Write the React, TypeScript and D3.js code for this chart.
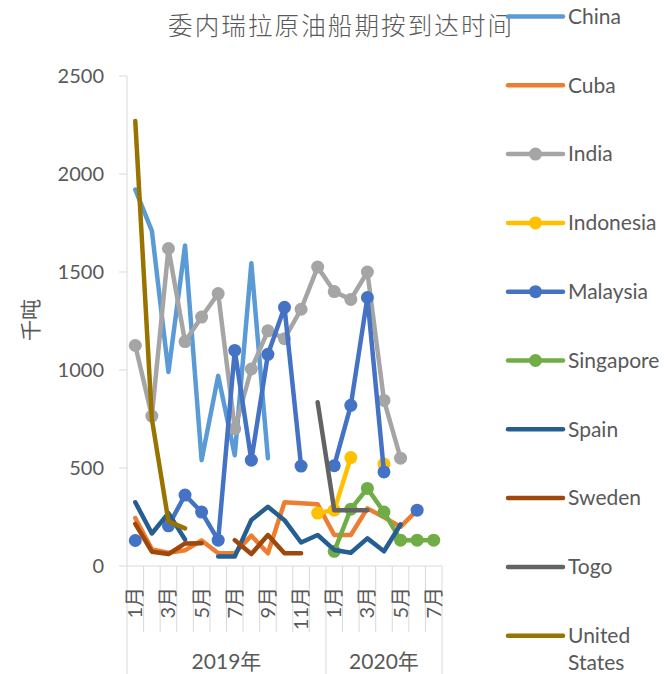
import React, { useEffect, useRef } from "react";
import * as d3 from "d3";

// categories: 2019 Jan..Dec, 2020 Jan..Jul
const months = ["1月", "2月", "3月", "4月", "5月", "6月", "7月", "8月", "9月", "10月", "11月", "12月",
  "1月", "2月", "3月", "4月", "5月", "6月", "7月"];
const years = [
  { label: "2019年", start: 0, end: 12 },
  { label: "2020年", start: 12, end: 19 },
];
const yTicks = [0, 500, 1000, 1500, 2000, 2500];

const N = null;
const china = [1920, 1710, 990, 1635, 540, 970, 565, 1545, 550, N, N, N, N, N, N, N, N, N, N];
const cuba = [245, 85, 68, 80, 130, 65, 65, 155, 65, 325, 320, 315, 158, 158, 294, 248, 200, 285, N];
const india = [1125, 765, 1620, 1145, 1270, 1390, 700, 1005, 1200, 1160, 1310, 1525, 1400, 1360, 1500, 845, 550, N, N];
const indonesia = [N, N, N, N, N, N, N, N, N, N, N, 270, 285, 553, N, 520, N, N, N];
const malaysia = [130, N, 205, 362, 275, 132, 1100, 540, 1080, 1320, 510, N, 512, 820, 1370, 480, N, 285, N];
const singapore = [N, N, N, N, N, N, N, N, N, N, N, N, 75, 290, 396, 275, 132, 132, 132];
const spain = [325, 166, 270, 135, N, 48, 48, 235, 302, 234, 120, 158, 82, 68, 141, 75, 212, N, N];
const sweden = [215, 73, 61, 115, 116, N, 132, 61, 158, 65, 65, N, N, N, N, N, N, N, N];
const togo = [N, N, N, N, N, N, N, N, N, N, N, 835, 285, 285, 285, N, N, N, N];
const unitedStates = [2270, 750, 228, 192, N, N, N, N, N, N, N, N, N, N, N, N, N, N, N];

const series = [
  { name: "China", values: china, color: "#5B9BD5", marker: false },
  { name: "Cuba", values: cuba, color: "#ED7D31", marker: false },
  { name: "India", values: india, color: "#A5A5A5", marker: true },
  { name: "Indonesia", values: indonesia, color: "#FFC000", marker: true },
  { name: "Malaysia", values: malaysia, color: "#4472C4", marker: true },
  { name: "Singapore", values: singapore, color: "#70AD47", marker: true },
  { name: "Spain", values: spain, color: "#255E91", marker: false },
  { name: "Sweden", values: sweden, color: "#9E480E", marker: false },
  { name: "Togo", values: togo, color: "#636363", marker: false },
  { name: "United States", values: unitedStates, color: "#997300", marker: false },
];

const FONT = "Lato, 'Noto Sans CJK SC', sans-serif";
const TEXT = "#595959";
const AXIS = "#D9D9D9";

export default function App() {
  const ref = useRef<SVGSVGElement | null>(null);

  useEffect(() => {
    const svg = d3.select(ref.current);
    svg.selectAll("*").remove();

    const left = 127, right = 442, top = 76, bottom = 566;

    const x = d3.scaleBand<number>()
      .domain(months.map((_, i) => i))
      .range([left, right])
      .padding(0);
    const bw = x.bandwidth();
    const cx = (i: number) => (x(i) as number) + bw / 2;

    const y = d3.scaleLinear().domain([0, 2500]).range([bottom, top]);

    // title
    svg.append("text")
      .attr("x", 340).attr("y", 35)
      .attr("text-anchor", "middle")
      .attr("font-family", "'Noto Sans CJK SC', sans-serif")
      .attr("font-size", 24.5)
      .attr("font-weight", 300)
      .attr("textLength", 344)
      .attr("fill", TEXT)
      .text("委内瑞拉原油船期按到达时间");

    // y axis
    const yAxis = svg.append("g");
    yAxis.append("line")
      .attr("x1", left).attr("x2", left)
      .attr("y1", top).attr("y2", bottom)
      .attr("stroke", AXIS).attr("stroke-width", 1);
    yTicks.forEach(t => {
      yAxis.append("line")
        .attr("x1", left - 8).attr("x2", left)
        .attr("y1", y(t)).attr("y2", y(t))
        .attr("stroke", AXIS);
      yAxis.append("text")
        .attr("x", 104).attr("y", y(t))
        .attr("dy", "0.35em")
        .attr("text-anchor", "end")
        .attr("font-family", FONT).attr("font-size", 20)
        .attr("fill", TEXT)
        .text(t);
    });
    svg.append("text")
      .attr("transform", `translate(31,320) rotate(-90)`)
      .attr("text-anchor", "middle")
      .attr("dy", "0.35em")
      .attr("font-family", "'Noto Sans CJK SC', sans-serif")
      .attr("font-size", 21)
      .attr("fill", TEXT)
      .text("千吨");

    // x axis
    const xAxis = svg.append("g");
    xAxis.append("line")
      .attr("x1", left).attr("x2", right)
      .attr("y1", bottom).attr("y2", bottom)
      .attr("stroke", AXIS);
    for (let k = 0; k <= months.length; k++) {
      const xx = k < months.length ? (x(k) as number) : right;
      const isGroup = years.some(g => g.start === k || g.end === k);
      xAxis.append("line")
        .attr("x1", xx).attr("x2", xx)
        .attr("y1", bottom).attr("y2", isGroup ? 674 : 632)
        .attr("stroke", AXIS);
    }
    months.forEach((m, i) => {
      const idx = i < 12 ? i : i - 12;
      if (idx % 2 !== 0) return;
      xAxis.append("text")
        .attr("transform", `translate(${cx(i)},587) rotate(-90)`)
        .attr("text-anchor", "end")
        .attr("dy", "0.35em")
        .attr("font-family", FONT).attr("font-size", 20)
        .attr("fill", TEXT)
        .text(m);
    });
    years.forEach(g => {
      const x0 = x(g.start) as number;
      const x1 = g.end < months.length ? (x(g.end) as number) : right;
      xAxis.append("text")
        .attr("x", (x0 + x1) / 2).attr("y", 669)
        .attr("text-anchor", "middle")
        .attr("font-family", FONT).attr("font-size", 21)
        .attr("fill", TEXT)
        .text(g.label);
    });

    // series
    const line = d3.line<number | null>()
      .defined(d => d != null)
      .x((_, i) => cx(i))
      .y(d => y(d as number));

    series.forEach(s => {
      const g = svg.append("g");
      g.append("path")
        .attr("d", line(s.values))
        .attr("fill", "none")
        .attr("stroke", s.color)
        .attr("stroke-width", 4.5)
        .attr("stroke-linejoin", "round")
        .attr("stroke-linecap", "round");
      if (s.marker) {
        g.selectAll("circle")
          .data(s.values.map((v, i) => ({ v, i })).filter(d => d.v != null))
          .enter()
          .append("circle")
          .attr("cx", d => cx(d.i))
          .attr("cy", d => y(d.v as number))
          .attr("r", 6.5)
          .attr("fill", s.color);
      }
    });

    // legend
    const leg = svg.append("g");
    series.forEach((s, i) => {
      const ly = 16.5 + i * 68.8;
      leg.append("line")
        .attr("x1", 508).attr("x2", 563)
        .attr("y1", ly).attr("y2", ly)
        .attr("stroke", s.color)
        .attr("stroke-width", 4.5)
        .attr("stroke-linecap", "round");
      if (s.marker) {
        leg.append("circle")
          .attr("cx", 535.5).attr("cy", ly).attr("r", 6.5)
          .attr("fill", s.color);
      }
      const words = s.name === "United States" ? ["United", "States"] : [s.name];
      words.forEach((w, j) => {
        leg.append("text")
          .attr("x", 568).attr("y", ly + j * 27)
          .attr("dy", "0.35em")
          .attr("font-family", FONT).attr("font-size", 21)
          .attr("fill", TEXT)
          .text(w);
      });
    });
  }, []);

  return (
    <svg ref={ref} width={668} height={674}
      style={{ position: "absolute", left: 0, top: 0, background: "#fff" }} />
  );
}
